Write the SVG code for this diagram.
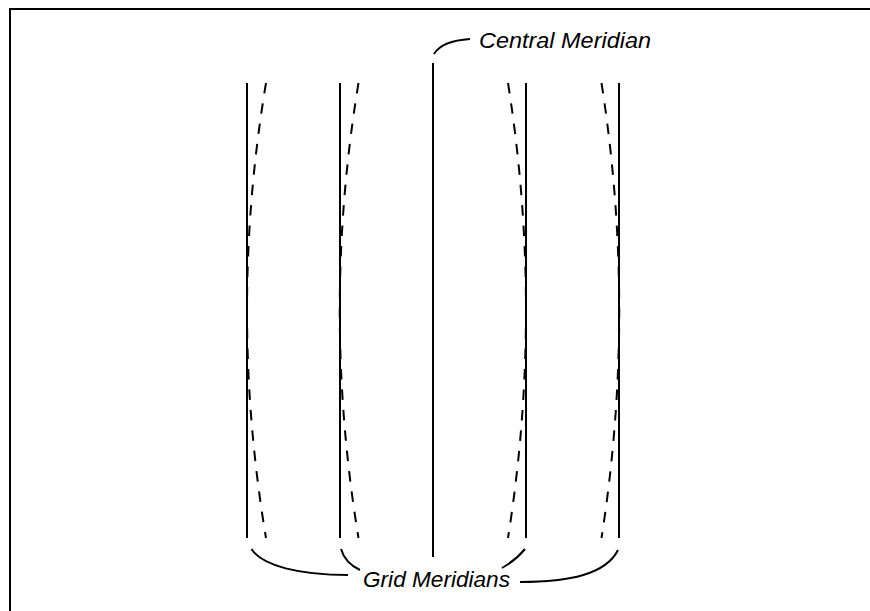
<svg xmlns="http://www.w3.org/2000/svg" width="870" height="611" viewBox="0 0 870 611">
<style>
.solid{stroke:#000;stroke-width:2;fill:none}
.dash{stroke:#000;stroke-width:2;fill:none;stroke-dasharray:10.5 10}
.lead{stroke:#000;stroke-width:2;fill:none}
.lbl{font-family:"Liberation Sans",Arial,sans-serif;font-style:italic;font-size:22px;fill:#000}
</style>
<rect width="870" height="611" fill="#fff"/>
<g id="frame">
<path class="solid" d="M10,611 V9 H870"/>
</g>
<g id="grid-meridian-1">
<line class="solid" x1="247" y1="83" x2="247" y2="538"/>
<path class="dash" d="M266,83 Q228,310.5 266,538"/>
</g>
<g id="grid-meridian-2">
<line class="solid" x1="340" y1="83" x2="340" y2="538"/>
<path class="dash" d="M358.5,83 Q321,310.5 358.5,538"/>
</g>
<g id="central-meridian">
<line class="solid" x1="433" y1="63" x2="433" y2="557"/>
</g>
<g id="grid-meridian-3">
<line class="solid" x1="526" y1="83" x2="526" y2="538"/>
<path class="dash" d="M508,83 Q544,310.5 508,538"/>
</g>
<g id="grid-meridian-4">
<line class="solid" x1="619" y1="83" x2="619" y2="538"/>
<path class="dash" d="M601.5,83 Q637,310.5 601.5,538"/>
</g>
<g id="label-central">
<text class="lbl" x="479" y="48" textLength="172" lengthAdjust="spacingAndGlyphs">Central Meridian</text>
</g>
<g id="label-grid">
<text class="lbl" x="363" y="587" textLength="147" lengthAdjust="spacingAndGlyphs">Grid Meridians</text>
</g>
<g id="connectors">
<path class="lead" d="M434,54 C440,44 455,40 470,39"/>
<path class="lead" d="M251.5,549 C262,566 300,575 348,575"/>
<path class="lead" d="M341,549 Q345,563 360,570"/>
<path class="lead" d="M525,549 Q516,560 502,568"/>
<path class="lead" d="M618,550 C606,574 570,582 520,582"/>
</g>
</svg>
